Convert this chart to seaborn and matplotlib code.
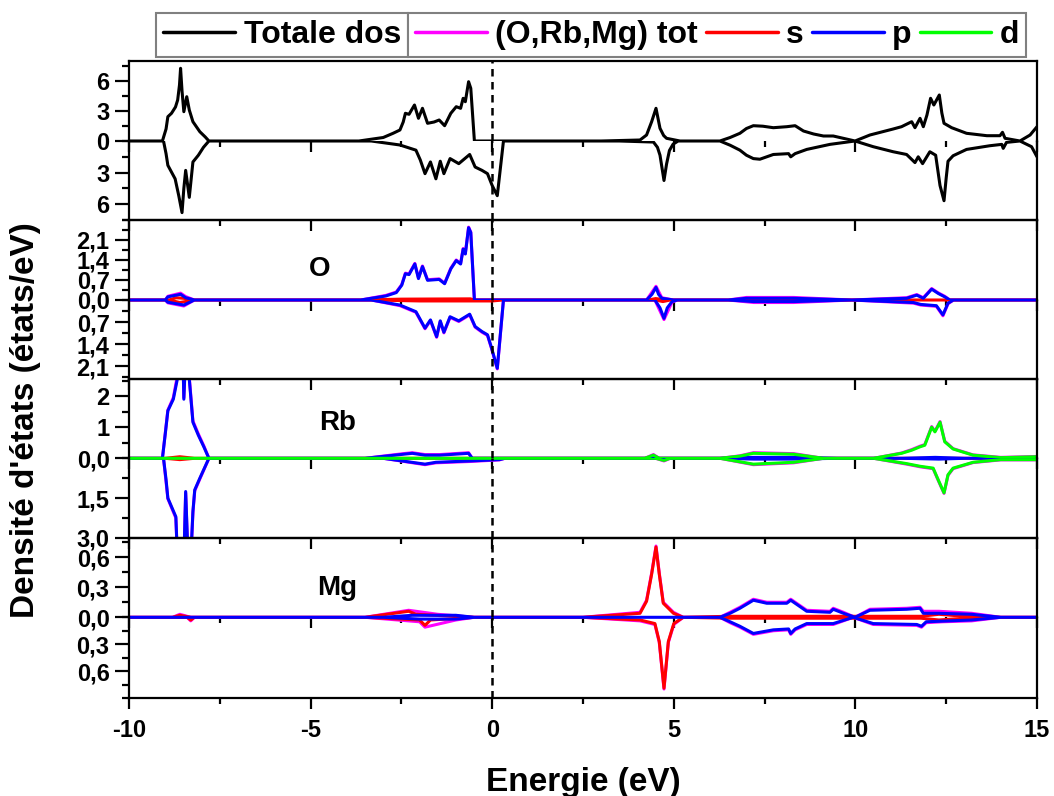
import matplotlib
matplotlib.use("Agg")
import matplotlib.pyplot as plt
import seaborn as sns
import pandas as pd
from matplotlib.ticker import MultipleLocator, FixedLocator, FixedFormatter
from matplotlib.lines import Line2D

# ---------------- data (energy eV, DOS) ----------------
TOT_UP = [(-10, 0), (-9.08, 0), (-8.98, 1.2), (-8.93, 2.43), (-8.83, 2.77), (-8.72, 3.4), (-8.66, 4.1),
          (-8.61, 5.6), (-8.58, 7.27), (-8.54, 5.0), (-8.49, 2.93), (-8.41, 4.43), (-8.34, 3.1), (-8.24, 1.93),
          (-8.05, 0.93), (-7.90, 0.4), (-7.80, 0),
          (-3.67, 0), (-3.0, 0.35), (-2.73, 0.77), (-2.54, 1.1), (-2.45, 1.9), (-2.39, 2.77), (-2.29, 2.67),
          (-2.14, 3.6), (-2.03, 2.27), (-1.92, 3.27), (-1.78, 1.77), (-1.60, 1.9), (-1.46, 2.1), (-1.31, 1.53),
          (-1.14, 2.77), (-0.99, 3.43), (-0.87, 3.27), (-0.80, 4.27), (-0.74, 3.93), (-0.65, 5.93), (-0.59, 5.27),
          (-0.49, 0),
          (3.0, 0), (4.07, 0.1), (4.25, 0.6), (4.39, 1.93), (4.51, 3.27), (4.62, 1.27), (4.72, 0.55),
          (4.80, 0.27), (5.17, 0),
          (6.27, 0), (6.55, 0.35), (6.82, 0.77), (7.0, 1.25), (7.19, 1.53), (7.45, 1.48), (7.74, 1.33),
          (8.11, 1.43), (8.34, 1.53), (8.57, 1.0), (8.85, 0.7), (9.12, 0.5), (9.39, 0.5), (9.99, 0),
          (10.40, 0.6), (11.04, 1.2), (11.27, 1.43), (11.55, 1.93), (11.64, 1.33), (11.78, 2.27), (11.87, 1.43),
          (11.97, 2.6), (12.07, 4.27), (12.16, 3.6), (12.31, 4.6), (12.38, 2.8), (12.44, 1.77), (12.65, 1.33),
          (13.06, 0.77), (13.62, 0.53), (13.98, 0.53), (14.05, 0.87), (14.12, 0.27), (14.53, 0),
          (14.81, 0.6), (15.0, 1.43)]
TOT_DN = [(-10, 0), (-9.05, 0), (-8.98, 1.2), (-8.93, 2.31), (-8.73, 3.59), (-8.63, 5.19), (-8.54, 6.8),
          (-8.49, 4.5), (-8.44, 2.79), (-8.34, 5.35), (-8.24, 1.99), (-8.09, 1.35), (-7.95, 0.6), (-7.80, 0),
          (-3.33, 0), (-2.54, 0.38), (-2.10, 0.87), (-1.98, 1.8), (-1.85, 3.1), (-1.70, 1.99), (-1.55, 3.59),
          (-1.43, 1.92), (-1.33, 3.1), (-1.16, 1.67), (-0.92, 2.15), (-0.62, 1.28), (-0.47, 2.47), (-0.28, 2.79),
          (-0.13, 3.1), (0.0, 4.23), (0.14, 5.19), (0.31, 0),
          (3.5, 0), (4.44, 0.1), (4.55, 0.6), (4.62, 1.35), (4.73, 3.75), (4.80, 2.2), (4.88, 0.9),
          (4.98, 0.3), (5.12, 0),
          (6.27, 0), (6.55, 0.4), (6.82, 0.87), (7.0, 1.35), (7.19, 1.67), (7.37, 1.73), (7.74, 1.28),
          (8.16, 1.2), (8.22, 1.5), (8.34, 1.2), (8.66, 0.8), (9.30, 0.32), (9.99, 0), (10.49, 0.54),
          (11.04, 1.02), (11.41, 1.28), (11.64, 2.05), (11.73, 1.5), (11.85, 2.15), (12.05, 1.02), (12.21, 1.35),
          (12.33, 4.23), (12.44, 5.67), (12.50, 3.5), (12.55, 1.92), (12.69, 1.4), (13.06, 0.8), (13.70, 0.45),
          (14.03, 0.32), (14.07, 0.7), (14.16, 0.13), (14.53, 0), (14.85, 0.54), (15.0, 1.5)]

O_TOT_UP = [(-10, 0), (-9.0, 0), (-8.93, 0.13), (-8.58, 0.24), (-8.44, 0.12), (-8.20, 0), (-3.62, 0),
            (-2.93, 0.16), (-2.64, 0.28), (-2.49, 0.54), (-2.39, 0.94), (-2.29, 0.91), (-2.13, 1.28), (-2.03, 0.77),
            (-1.92, 1.19), (-1.78, 0.71), (-1.46, 0.74), (-1.31, 0.59), (-1.14, 1.11), (-0.99, 1.40), (-0.87, 1.28),
            (-0.80, 1.80), (-0.74, 1.63), (-0.65, 2.55), (-0.59, 2.38), (-0.49, 0), (4.25, 0), (4.51, 0.48),
            (4.67, 0.08), (4.99, 0), (6.5, 0), (7.0, 0.09), (8.3, 0.09), (9.9, 0), (11.41, 0.08), (11.69, 0.19),
            (11.87, 0.08), (12.1, 0.40), (12.28, 0.25), (12.46, 0.13), (12.6, 0), (15, 0)]
O_TOT_DN = [(-10, 0), (-9.0, 0), (-8.93, 0.09), (-8.49, 0.19), (-8.20, 0), (-3.33, 0), (-2.54, 0.18),
            (-2.10, 0.39), (-1.85, 0.91), (-1.70, 0.65), (-1.53, 1.18), (-1.43, 0.68), (-1.33, 1.04), (-1.16, 0.55),
            (-0.92, 0.68), (-0.62, 0.47), (-0.47, 0.86), (-0.28, 1.02), (-0.13, 1.12), (-0.03, 1.49), (0.14, 2.18),
            (0.31, 0), (4.48, 0), (4.73, 0.62), (4.95, 0.07), (5.1, 0), (6.5, 0), (7.2, 0.08), (8.3, 0.08),
            (9.9, 0), (11.6, 0.10), (11.8, 0.16), (12.23, 0.20), (12.41, 0.50), (12.55, 0.12), (12.7, 0), (15, 0)]
O_S_UP = [(-10, 0), (-8.9, 0), (-8.7, 0.08), (-8.5, 0.06), (-8.2, 0), (-3.6, 0), (-2.5, 0.03), (-0.6, 0.04),
          (-0.49, 0), (4.3, 0), (4.5, 0.05), (4.8, 0), (15, 0)]
O_S_DN = [(-10, 0), (-8.9, 0), (-8.6, 0.08), (-8.2, 0), (-3.3, 0), (-2.0, 0.03), (0.0, 0.03), (0.3, 0),
          (4.5, 0), (4.7, 0.05), (4.9, 0), (15, 0)]
O_P_UP = [(-10, 0), (-9.0, 0), (-8.93, 0.11), (-8.58, 0.2), (-8.44, 0.08), (-8.20, 0), (-3.62, 0), (-2.93, 0.14),
          (-2.64, 0.26), (-2.49, 0.52), (-2.39, 0.92), (-2.29, 0.89), (-2.13, 1.26), (-2.03, 0.75), (-1.92, 1.17),
          (-1.78, 0.69), (-1.46, 0.72), (-1.31, 0.57), (-1.14, 1.09), (-0.99, 1.38), (-0.87, 1.26), (-0.80, 1.78),
          (-0.74, 1.61), (-0.65, 2.53), (-0.59, 2.36), (-0.49, 0), (4.25, 0), (4.40, 0.2), (4.51, 0.44),
          (4.58, 0.2), (4.67, 0.06), (4.99, 0), (6.5, 0), (7.0, 0.06), (8.3, 0.06), (9.9, 0), (11.41, 0.06),
          (11.69, 0.17), (11.87, 0.06), (12.1, 0.38), (12.28, 0.23), (12.46, 0.11), (12.6, 0), (15, 0)]
O_P_DN = [(-10, 0), (-9.0, 0), (-8.93, 0.07), (-8.49, 0.16), (-8.20, 0), (-3.33, 0), (-2.54, 0.16), (-2.10, 0.37),
          (-1.85, 0.89), (-1.70, 0.63), (-1.53, 1.16), (-1.43, 0.66), (-1.33, 1.02), (-1.16, 0.53), (-0.92, 0.66),
          (-0.62, 0.45), (-0.47, 0.84), (-0.28, 1.0), (-0.13, 1.1), (-0.03, 1.47), (0.14, 2.16), (0.31, 0),
          (4.48, 0), (4.62, 0.25), (4.73, 0.58), (4.82, 0.25), (4.95, 0.05), (5.1, 0), (6.5, 0), (7.2, 0.05),
          (8.3, 0.05), (9.9, 0), (11.6, 0.08), (11.8, 0.14), (12.23, 0.18), (12.41, 0.47), (12.55, 0.1),
          (12.7, 0), (15, 0)]

RB_TOT_UP = [(-10, 0), (-9.08, 0), (-8.93, 1.55), (-8.78, 1.95), (-8.66, 2.7), (-8.58, 6.9), (-8.49, 1.95),
             (-8.41, 4.3), (-8.34, 2.6), (-8.24, 1.2), (-8.09, 0.78), (-7.94, 0.4), (-7.80, 0), (-3.5, 0),
             (-2.45, 0.15), (-2.2, 0.18), (-1.85, 0.12), (-1.45, 0.12), (-0.65, 0.18), (-0.55, 0), (4.2, 0),
             (4.44, 0.12), (4.6, 0), (6.27, 0), (6.82, 0.08), (7.19, 0.18), (8.3, 0.15), (9.12, 0), (10.5, 0),
             (11.27, 0.17), (11.55, 0.28), (11.78, 0.39), (11.91, 0.44), (12.1, 1.02), (12.19, 0.87), (12.33, 1.18),
             (12.46, 0.55), (12.69, 0.31), (13.24, 0.11), (14.0, 0.03), (15.0, 0.06)]
RB_TOT_DN = [(-10, 0), (-9.05, 0), (-8.93, 1.52), (-8.71, 2.25), (-8.63, 5.1), (-8.54, 6.6), (-8.44, 1.3),
             (-8.34, 5.1), (-8.24, 2.05), (-8.19, 1.22), (-8.05, 0.78), (-7.80, 0), (-3.0, 0), (-1.85, 0.24),
             (-1.55, 0.17), (-0.6, 0.12), (0.2, 0.06), (0.35, 0), (4.5, 0), (4.73, 0.1), (4.9, 0), (6.27, 0),
             (7.19, 0.24), (8.3, 0.17), (9.12, 0), (10.5, 0), (11.41, 0.22), (11.78, 0.32), (12.14, 0.39),
             (12.28, 0.83), (12.44, 1.32), (12.55, 0.64), (12.69, 0.39), (13.24, 0.16), (14.0, 0.06), (15.0, 0.06)]
RB_S_UP = [(-10, 0), (-9.0, 0), (-8.6, 0.05), (-8.2, 0), (15, 0)]
RB_S_DN = [(-10, 0), (-9.0, 0), (-8.6, 0.05), (-8.2, 0), (15, 0)]
RB_P_UP = [(-10, 0), (-9.08, 0), (-9.0, 0.8), (-8.93, 1.53), (-8.78, 1.9), (-8.66, 2.6), (-8.58, 6.8),
           (-8.49, 1.9), (-8.41, 4.2), (-8.34, 2.54), (-8.24, 1.16), (-8.09, 0.74), (-7.94, 0.37), (-7.80, 0),
           (-3.5, 0), (-2.45, 0.13), (-2.2, 0.16), (-1.85, 0.1), (-1.45, 0.1), (-0.65, 0.16), (-0.55, 0),
           (6.3, 0), (7.2, 0.03), (8.3, 0.03), (9.5, 0), (11.3, 0), (12.2, 0.03), (13.0, 0), (15, 0)]
RB_P_DN = [(-10, 0), (-9.05, 0), (-8.98, 0.8), (-8.93, 1.5), (-8.71, 2.2), (-8.63, 5.0), (-8.54, 6.5),
           (-8.44, 1.25), (-8.34, 5.0), (-8.24, 2.0), (-8.19, 1.19), (-8.05, 0.75), (-7.80, 0), (-3.0, 0),
           (-1.85, 0.22), (-1.55, 0.15), (-0.6, 0.1), (0.2, 0.05), (0.35, 0), (6.3, 0), (7.2, 0.03), (8.3, 0.03),
           (9.5, 0), (11.3, 0), (12.3, 0.03), (13.0, 0), (15, 0)]
RB_D_UP = [(-10, 0), (4.2, 0), (4.44, 0.1), (4.6, 0), (6.27, 0), (6.82, 0.07), (7.19, 0.16), (8.3, 0.13),
           (9.12, 0), (10.5, 0), (11.27, 0.16), (11.55, 0.26), (11.78, 0.37), (11.91, 0.42), (12.1, 1.0),
           (12.19, 0.85), (12.33, 1.16), (12.46, 0.53), (12.69, 0.3), (13.24, 0.1), (14.0, 0.02), (15.0, 0.05)]
RB_D_DN = [(-10, 0), (4.5, 0), (4.73, 0.08), (4.9, 0), (6.27, 0), (7.19, 0.22), (8.3, 0.15), (9.12, 0),
           (10.5, 0), (11.41, 0.2), (11.78, 0.3), (12.14, 0.37), (12.28, 0.81), (12.44, 1.3), (12.55, 0.62),
           (12.69, 0.37), (13.24, 0.15), (14.0, 0.05), (15.0, 0.05)]

MG_TOT_UP = [(-10, 0), (-8.8, 0), (-8.6, 0.03), (-8.3, 0), (-3.5, 0), (-2.3, 0.07), (-1.5, 0.03), (-0.5, 0),
             (2.5, 0), (4.07, 0.05), (4.25, 0.17), (4.39, 0.44), (4.51, 0.71), (4.6, 0.44), (4.71, 0.15),
             (4.99, 0.05), (5.26, 0), (6.27, 0), (6.55, 0.05), (6.82, 0.1), (7.19, 0.18), (7.56, 0.15),
             (8.11, 0.15), (8.22, 0.18), (8.38, 0.14), (8.66, 0.07), (9.30, 0.06), (9.39, 0.09), (9.67, 0.05),
             (9.99, 0), (10.40, 0.08), (11.41, 0.09), (11.78, 0.1), (11.87, 0.06), (12.3, 0.06), (13.2, 0.04),
             (14.0, 0), (15, 0)]
MG_TOT_DN = [(-10, 0), (-8.4, 0), (-8.3, 0.04), (-8.2, 0), (-3.5, 0), (-2.0, 0.05), (-1.85, 0.11), (-1.0, 0.03),
             (-0.5, 0), (2.5, 0), (4.07, 0.04), (4.48, 0.08), (4.6, 0.28), (4.73, 0.8), (4.85, 0.28),
             (5.0, 0.08), (5.26, 0), (6.27, 0), (6.55, 0.06), (6.82, 0.11), (7.19, 0.19), (7.74, 0.15),
             (8.16, 0.14), (8.22, 0.19), (8.34, 0.14), (8.66, 0.08), (9.39, 0.08), (9.94, 0), (10.49, 0.08),
             (11.69, 0.09), (11.82, 0.11), (11.95, 0.06), (12.4, 0.05), (13.2, 0.04), (14.0, 0), (15, 0)]
MG_S_UP = [(-10, 0), (-8.8, 0), (-8.6, 0.02), (-8.3, 0), (-3.5, 0), (-2.3, 0.06), (-2.1, 0.03), (-1.0, 0.01),
           (-0.5, 0), (2.5, 0), (4.07, 0.04), (4.25, 0.16), (4.39, 0.43), (4.51, 0.7), (4.6, 0.43), (4.71, 0.14),
           (4.99, 0.04), (5.26, 0), (6.5, 0.01), (11.8, 0.01), (12.3, 0.03), (13.0, 0.01), (14, 0), (15, 0)]
MG_S_DN = [(-10, 0), (-8.4, 0), (-8.3, 0.03), (-8.2, 0), (-3.5, 0), (-2.0, 0.03), (-1.85, 0.09), (-1.7, 0.03),
           (-0.5, 0), (2.5, 0), (4.07, 0.03), (4.48, 0.07), (4.6, 0.27), (4.73, 0.79), (4.85, 0.27), (5.0, 0.07),
           (5.26, 0), (6.5, 0.01), (11.8, 0.01), (12.3, 0.03), (13.0, 0.01), (14, 0), (15, 0)]
MG_P_UP = [(-10, 0), (-3.0, 0), (-2.2, 0.02), (-1.0, 0.02), (-0.5, 0), (6.27, 0), (6.55, 0.04), (6.82, 0.09),
           (7.19, 0.17), (7.56, 0.14), (8.11, 0.14), (8.22, 0.17), (8.38, 0.13), (8.66, 0.06), (9.30, 0.05),
           (9.39, 0.08), (9.67, 0.04), (9.99, 0), (10.40, 0.07), (11.41, 0.08), (11.78, 0.09), (11.87, 0.04),
           (12.3, 0.04), (13.2, 0.03), (14.0, 0), (15, 0)]
MG_P_DN = [(-10, 0), (-3.0, 0), (-2.0, 0.02), (-1.0, 0.02), (-0.5, 0), (6.27, 0), (6.55, 0.05), (6.82, 0.1),
           (7.19, 0.18), (7.74, 0.14), (8.16, 0.13), (8.22, 0.18), (8.34, 0.13), (8.66, 0.07), (9.39, 0.07),
           (9.94, 0), (10.49, 0.07), (11.69, 0.08), (11.82, 0.1), (11.95, 0.05), (13.2, 0.03), (14.0, 0), (15, 0)]

ATOMS = ["O", "Rb", "Mg"]
LEGEND_LABELS = ["Totale dos", "(O,Rb,Mg) tot", "s", "p", "d"]
COLORS = {"tot": "#000000", "atom": "#FF00FF", "s": "#FF0000", "p": "#0000FF", "d": "#00FF00"}

# y ranges (upper = spin up, lower = spin down), tick positions and labels
Y_UP = [8.0, 2.8, 2.55, 0.79]
Y_DN = [7.5, 2.5, 3.0, 0.9]
TICKS_UP = [[0, 3, 6], [0, 0.7, 1.4, 2.1], [0, 1, 2], [0, 0.3, 0.6]]
LABELS_UP = [["0", "3", "6"], ["0,0", "0,7", "1,4", "2,1"], ["0,0", "1", "2"], ["0,0", "0,3", "0,6"]]
TICKS_DN = [[3, 6], [0.7, 1.4, 2.1], [1.5, 3.0], [0.3, 0.6]]
LABELS_DN = [["3", "6"], ["0,7", "1,4", "2,1"], ["1,5", "3,0"], ["0,3", "0,6"]]
MINOR_UP = [1.5, 0.35, 0.5, 0.15]
MINOR_DN = [1.5, 0.35, 0.75, 0.15]
X_TICKS = [-10, -5, 0, 5, 10, 15]
X_LABELS = ["-10", "-5", "0", "5", "10", "15"]

# ---------------- style ----------------
sns.set_theme(style="ticks")
plt.rcParams["font.family"] = ["Liberation Sans", "DejaVu Sans"]
plt.rcParams["font.weight"] = "bold"
plt.rcParams["axes.unicode_minus"] = False
plt.rcParams["axes.edgecolor"] = "black"
plt.rcParams["xtick.color"] = "black"
plt.rcParams["ytick.color"] = "black"
plt.rcParams["text.color"] = "black"

W, H = 1054, 796
fig = plt.figure(figsize=(W / 100, H / 100), dpi=100)
fig.patch.set_facecolor("white")
L, R = 129, 1037
TOPS = [61, 220, 379, 538]
MIDS = [141, 300, 458.3, 617.3]
BOTS = [220, 379, 538, 698]
LW = 2.2


def add_ax(top_px, bot_px):
    return fig.add_axes([L / W, 1 - bot_px / H, (R - L) / W, (bot_px - top_px) / H])


def curve(ax, pts, color):
    df = pd.DataFrame(pts, columns=["E", "dos"])
    sns.lineplot(data=df, x="E", y="dos", ax=ax, color=color, linewidth=LW,
                 estimator=None, sort=False, legend=False)


def style(ax, last=False):
    ax.set_facecolor("none")
    ax.set_xlabel("")
    ax.set_ylabel("")
    ax.set_xlim(-10, 15)
    ax.xaxis.set_major_locator(FixedLocator(X_TICKS))
    ax.xaxis.set_major_formatter(FixedFormatter(X_LABELS))
    ax.xaxis.set_minor_locator(MultipleLocator(2.5))
    ax.tick_params(axis="x", which="major", direction="out", length=8, width=1.6,
                   bottom=True, top=False, labelbottom=last, labelsize=17, pad=7)
    ax.tick_params(axis="x", which="minor", direction="out", length=4, width=1.6,
                   bottom=True, top=False)
    ax.tick_params(axis="y", which="major", direction="out", length=10, width=1.6,
                   left=True, right=False, labelsize=17, pad=4)
    ax.tick_params(axis="y", which="minor", direction="out", length=5, width=1.6,
                   left=True, right=False)
    for s in ax.spines.values():
        s.set_linewidth(1.6)
        s.set_color("black")
    ax.axvline(0, color="black", lw=1.8, ls=(0, (3.0, 2.2)), zorder=5)


panels = [
    ([(TOT_UP, COLORS["tot"])], [(TOT_DN, COLORS["tot"])]),
    ([(O_TOT_UP, COLORS["atom"]), (O_S_UP, COLORS["s"]), (O_P_UP, COLORS["p"])],
     [(O_TOT_DN, COLORS["atom"]), (O_S_DN, COLORS["s"]), (O_P_DN, COLORS["p"])]),
    ([(RB_TOT_UP, COLORS["atom"]), (RB_S_UP, COLORS["s"]), (RB_P_UP, COLORS["p"]), (RB_D_UP, COLORS["d"])],
     [(RB_TOT_DN, COLORS["atom"]), (RB_S_DN, COLORS["s"]), (RB_P_DN, COLORS["p"]), (RB_D_DN, COLORS["d"])]),
    ([(MG_TOT_UP, COLORS["atom"]), (MG_S_UP, COLORS["s"]), (MG_P_UP, COLORS["p"])],
     [(MG_TOT_DN, COLORS["atom"]), (MG_S_DN, COLORS["s"]), (MG_P_DN, COLORS["p"])]),
]
LABEL_POS = [None, (-4.74, 1.08), (-4.27, 1.12), (-4.27, 0.29)]

for i, (ups, dns) in enumerate(panels):
    up = add_ax(TOPS[i], MIDS[i])
    dn = add_ax(MIDS[i], BOTS[i])
    for pts, c in ups:
        curve(up, pts, c)
    for pts, c in dns:
        curve(dn, pts, c)
    style(up)
    style(dn, last=(i == 3))
    up.set_ylim(0, Y_UP[i])
    dn.set_ylim(Y_DN[i], 0)
    up.yaxis.set_major_locator(FixedLocator(TICKS_UP[i]))
    up.yaxis.set_major_formatter(FixedFormatter(LABELS_UP[i]))
    up.yaxis.set_minor_locator(MultipleLocator(MINOR_UP[i]))
    dn.yaxis.set_major_locator(FixedLocator(TICKS_DN[i]))
    dn.yaxis.set_major_formatter(FixedFormatter(LABELS_DN[i]))
    dn.yaxis.set_minor_locator(MultipleLocator(MINOR_DN[i]))
    up.spines["bottom"].set_visible(False)
    dn.spines["top"].set_visible(False)
    if i > 0:
        up.text(LABEL_POS[i][0], LABEL_POS[i][1], ATOMS[i - 1], ha="center", va="center",
                fontsize=20, fontweight="bold")

fig.text(583 / W, 1 - 791 / H, "Energie (eV)", ha="center", va="baseline", fontsize=24, fontweight="bold")
fig.text(26 / W, 1 - 420 / H, "Densité d'états (états/eV)", ha="center", va="center", rotation=90,
         fontsize=24, fontweight="bold")

# ---------------- legends ----------------
handles = [Line2D([], [], color=COLORS[k], lw=2.5) for k in ["tot", "atom", "s", "p", "d"]]
prop = {"family": ["Liberation Sans", "DejaVu Sans"], "weight": "bold", "size": 23}
leg_kw = dict(frameon=True, fancybox=False, edgecolor="#808080", framealpha=1, prop=prop,
              handlelength=2.25, handletextpad=0.26, borderpad=0.22, borderaxespad=0,
              bbox_transform=fig.transFigure)
leg1 = fig.legend(handles[:1], LEGEND_LABELS[:1], loc="upper right",
                  bbox_to_anchor=(408 / W, 1 - 13 / H), **leg_kw)
leg2 = fig.legend(handles[1:], LEGEND_LABELS[1:], loc="upper left", ncol=4, columnspacing=0.25,
                  bbox_to_anchor=(408 / W, 1 - 13 / H), **leg_kw)
for lg in (leg1, leg2):
    lg.get_frame().set_linewidth(1.5)

fig.savefig("out.png", dpi=100, facecolor="white")
